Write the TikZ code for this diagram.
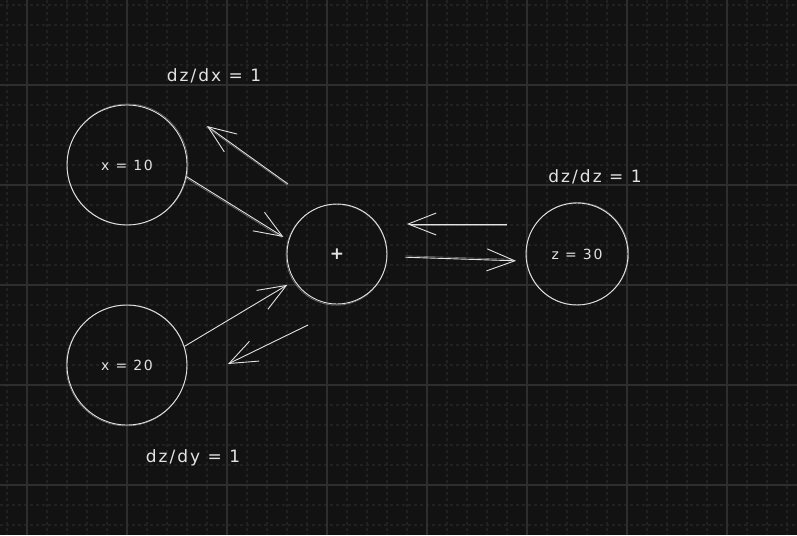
\documentclass[tikz,border=0pt]{standalone}
\usepackage{fontspec}
\setmainfont{DejaVu Sans}[LetterSpace=12]
\usetikzlibrary{arrows.meta,calc}
\definecolor{bg}{HTML}{121212}
\definecolor{minorgrid}{HTML}{212121}
\definecolor{majorgrid}{HTML}{2E2E2E}
\definecolor{ink}{HTML}{E2E2E2}

\tikzset{
  minorline/.style={draw=minorgrid, line width=1.3pt, dash pattern=on 3pt off 3pt},
  majorline/.style={draw=majorgrid, line width=1.3pt},
  circ/.style={circle, draw=ink, line width=0.9pt, inner sep=0pt, text=ink,
               font=\fontsize{14}{16}\selectfont},
  sketch/.style={draw=ink, line width=0.6pt, opacity=0.45},
  arr/.style={draw=ink, line width=0.9pt,
              -{Straight Barb[length=28pt,width=22pt,line width=0.9pt]}},
  lbl/.style={text=ink, font=\fontsize{17}{19}\selectfont, inner sep=0pt}
}

\begin{document}
\begin{tikzpicture}[x=1pt,y=-1pt]
  % canvas
  \fill[bg] (0,0) rectangle (797,535);
  \useasboundingbox (0,0) rectangle (797,535);

  % dotted minor grid
  \foreach \gx in {7,27,...,787} \draw[minorline] (\gx,0) -- (\gx,535);
  \foreach \gy in {5,25,...,525} \draw[minorline] (0,\gy) -- (797,\gy);
  % solid major grid
  \foreach \gx in {27,127,...,727} \draw[majorline] (\gx,0) -- (\gx,535);
  \foreach \gy in {85,185,...,485} \draw[majorline] (0,\gy) -- (797,\gy);

  % value nodes
  \node[circ, minimum size=120pt] (x10)  at (127,165) {x = 10};
  \node[circ, minimum size=120pt] (x20)  at (127,365) {x = 20};
  \node[circ, minimum size=100pt, font=\fontsize{17}{19}\selectfont\bfseries] (plus) at (337,254) {+};
  \node[circ, minimum size=102pt] (z)    at (577,254) {z = 30};

  % second, hand-drawn looking strokes around the circles
  \draw[sketch] (127.6,164.4) circle[radius=60.4];
  \draw[sketch] (126.5,365.6) circle[radius=60.3];
  \draw[sketch] (336.4,254.8) circle[radius=50.4];
  \draw[sketch] (577.5,253.6) circle[radius=51.2];

  % forward pass
  \draw[arr, shorten >=6pt] (x10.-11) -- (plus.164.5);
  \draw[sketch, shorten >=8pt] ([shift={(0,1.6)}]x10.-11) -- ([shift={(0,1.6)}]plus.164.5);
  \draw[arr, shorten >=8pt] (x20.18.7) -- (plus.212.3);
  \draw[arr, shorten <=18pt, shorten >=10pt] (plus.-3.4) -- (z.188.4);
  \draw[sketch, shorten <=18pt, shorten >=14pt] ([shift={(0,-1.4)}]plus.-3.4) -- ([shift={(0,-1.4)}]z.188.4);

  % backward pass
  \coordinate (bxs) at (288,184);
  \coordinate (bxe) at (207,126);
  \coordinate (bys) at (308,325);
  \coordinate (bye) at (228,364);
  \coordinate (bzs) at (507,224);
  \coordinate (bze) at (407,224);
  \draw[arr] (bxs) -- (bxe);
  \draw[sketch] ([shift={(-0.8,0.9)}]bxs) -- ([shift={(-0.8,0.9)}]bxe);
  \draw[arr] (bys) -- (bye);
  \draw[arr] (bzs) -- (bze);
  \draw[sketch] ([shift={(0,1.3)}]bzs) -- ([shift={(4,1.3)}]bze);

  % gradient labels
  \node[lbl] (gx) at (214,76)  {dz/dx = 1};
  \node[lbl] (gz) at (595,177) {dz/dz = 1};
  \node[lbl] (gy) at (193,458) {dz/dy = 1};
\end{tikzpicture}
\end{document}
